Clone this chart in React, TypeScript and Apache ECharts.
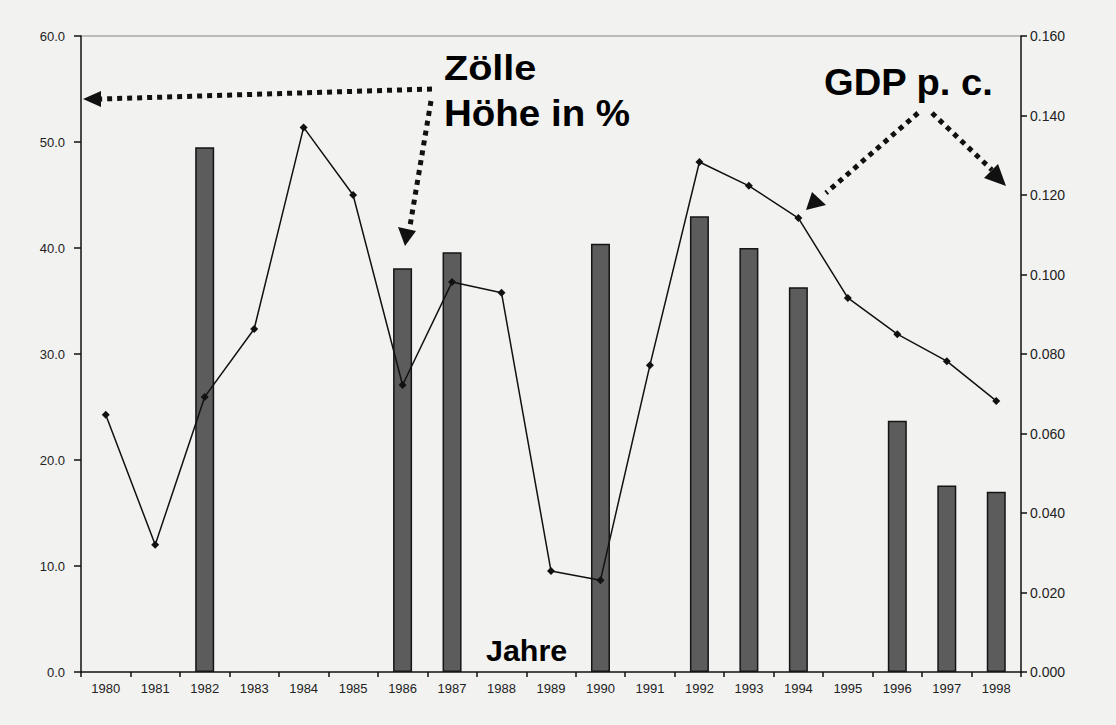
import React, { useEffect, useRef } from "react";
import * as echarts from "echarts";

const years = ["1980","1981","1982","1983","1984","1985","1986","1987","1988","1989","1990","1991","1992","1993","1994","1995","1996","1997","1998"];
const tariffs: (number | null)[] = [null, null, 49.5, null, null, null, 38.1, 39.6, null, null, 40.4, null, 43.0, 40.0, 36.3, null, 23.7, 17.6, 17.0];
const gdpPc = [0.0647, 0.0320, 0.0692, 0.0863, 0.137, 0.120, 0.0722, 0.0981, 0.0954, 0.0254, 0.0231, 0.0772, 0.1283, 0.1223, 0.1142, 0.0941, 0.0850, 0.0782, 0.0682];

const dotted = { stroke: "#111", lineWidth: 5, lineDash: [5, 5], fill: null };
const FONT = "Arial, Liberation Sans";

export default function App() {
  const ref = useRef<HTMLDivElement>(null);
  useEffect(() => {
    document.body.style.margin = "0";
    const chart = echarts.init(ref.current!, null, { renderer: "svg" });
    chart.setOption({
      animation: false,
      backgroundColor: "#f2f2f1",
      grid: { left: 81, right: 95, top: 36, bottom: 53 },
      xAxis: {
        type: "category",
        data: years,
        boundaryGap: true,
        axisLine: { lineStyle: { color: "#111", width: 1.5 } },
        axisTick: { show: true, alignWithLabel: false, length: 5, lineStyle: { color: "#111", width: 1.5 } },
        axisLabel: { color: "#222", fontSize: 13, fontFamily: FONT, margin: 10 },
      },
      yAxis: [
        {
          type: "value", min: 0, max: 60, interval: 10,
          axisLine: { show: true, lineStyle: { color: "#111", width: 1.5 } },
          axisTick: { show: true, length: 7, lineStyle: { color: "#111", width: 1.5 } },
          axisLabel: { color: "#222", fontSize: 13, fontFamily: FONT, formatter: (v: number) => v.toFixed(1), margin: 16 },
          splitLine: { show: false },
        },
        {
          type: "value", min: 0, max: 0.16, interval: 0.02,
          axisLine: { show: true, lineStyle: { color: "#111", width: 1.5 } },
          axisTick: { show: true, length: 6, lineStyle: { color: "#111", width: 1.5 } },
          axisLabel: { color: "#222", fontSize: 14, fontFamily: FONT, formatter: (v: number) => v.toFixed(3), margin: 9 },
          splitLine: { show: false },
        },
      ],
      series: [
        {
          type: "bar", yAxisIndex: 0, data: tariffs, barWidth: 19,
          itemStyle: { color: "#5c5c5c", borderColor: "#151515", borderWidth: 1.5 },
        },
        {
          type: "line", yAxisIndex: 1, data: gdpPc,
          lineStyle: { color: "#111", width: 1.5 },
          symbol: "diamond", symbolSize: 8,
          itemStyle: { color: "#111" },
        },
      ],
      graphic: [
        { type: "line", shape: { x1: 81, y1: 36, x2: 1021, y2: 36 }, style: { stroke: "#bbb", lineWidth: 2 } },
        { type: "text", x: 444, y: 50, scaleX: 1.1, style: { text: "Zölle", font: `bold 36px ${FONT}`, fill: "#000" } },
        { type: "text", x: 444, y: 95, scaleX: 1.07, style: { text: "Höhe in %", font: `bold 36px ${FONT}`, fill: "#000" } },
        { type: "text", x: 824, y: 64, scaleX: 1.06, style: { text: "GDP p. c.", font: `bold 36px ${FONT}`, fill: "#000" } },
        { type: "text", x: 486, y: 636, scaleX: 1.05, style: { text: "Jahre", font: `bold 29px ${FONT}`, fill: "#000" } },
        { type: "polyline", shape: { points: [[432, 89], [100, 99]] }, style: dotted },
        { type: "polygon", shape: { points: [[83, 99], [101, 91], [101, 107]] }, style: { fill: "#111" } },
        { type: "polyline", shape: { points: [[431, 101], [410, 226]] }, style: dotted },
        { type: "polygon", shape: { points: [[405, 246], [398, 227], [416, 231]] }, style: { fill: "#111" } },
        { type: "polyline", shape: { points: [[918, 113], [826, 193]] }, style: dotted },
        { type: "polygon", shape: { points: [[806, 210], [812, 192], [826, 205]] }, style: { fill: "#111" } },
        { type: "polyline", shape: { points: [[932, 113], [992, 170]] }, style: dotted },
        { type: "polygon", shape: { points: [[1006, 186], [984, 178], [998, 164]] }, style: { fill: "#111" } },
      ],
    });
    return () => chart.dispose();
  }, []);
  return <div ref={ref} style={{ position: "fixed", left: 0, top: 0, width: 1116, height: 725 }} />;
}
